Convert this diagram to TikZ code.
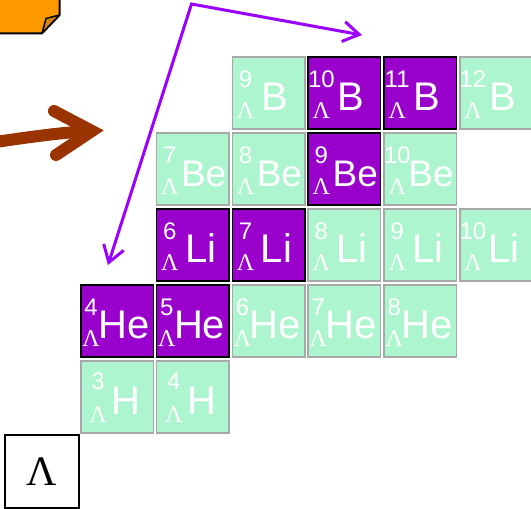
\documentclass[tikz,border=0pt]{standalone}
\usepackage{fontspec}
\setmainfont{Liberation Sans}
\newfontfamily\lamfont{Liberation Serif}
\usetikzlibrary{arrows.meta}

\definecolor{mint}{HTML}{ADF5CE}
\definecolor{mintedge}{HTML}{A8A8A8}
\definecolor{hyperpurple}{HTML}{9900CC}
\definecolor{notefill}{HTML}{FF9900}
\definecolor{notefold}{HTML}{D4840F}
\definecolor{rust}{HTML}{993300}
\definecolor{arrowviolet}{HTML}{9900FF}

% per-row layout: prescript column, element x, element baseline, element size, mass baseline
\newcommand\rowsetup[5]{\def\pcol{#1}\def\ex{#2}\def\ebase{#3}\def\esize{#4}\def\nbase{#5}}

% one hypernucleus cell: name, column, row, style, mass number, element
\newcommand\hypnuc[6]{%
  \node[#4] (#1) at ({80+75.8*#2},{56+76.1*#3}) {};
  \node[massno] (#1-a) at ([xshift=\pcol pt, yshift=\nbase pt]#1.south west) {#5};
  \node[lam] (#1-l) at ([xshift=\pcol pt, yshift=11pt]#1.south west) {Λ};
  \node[elem, font=\fontsize{\esize}{\esize}\selectfont] (#1-x)
    at ([xshift=\ex pt, yshift=\ebase pt]#1.south west) {#6};
}

\begin{document}
\begin{tikzpicture}[x=1pt, y=-1pt,
  cell/.style={rectangle, anchor=north west, minimum width=72.5pt,
    minimum height=72pt, inner sep=0pt, line width=1.5pt},
  known/.style={cell, fill=hyperpurple, draw=black},
  unknown/.style={cell, fill=mint, draw=mintedge},
  massno/.style={font=\fontsize{24}{24}\selectfont, inner sep=0pt, anchor=base, text=white},
  lam/.style={font=\lamfont\fontsize{24}{24}\selectfont, inner sep=0pt, anchor=base, text=white},
  elem/.style={inner sep=0pt, anchor=base west, text=white},
  pointer/.style={arrowviolet, line width=3pt, line join=miter},
  bigarrow/.style={rust, line width=12pt}]
\useasboundingbox (0,0) rectangle (531,509);

% folded note in the corner
\filldraw[fill=notefill, draw=black, line width=2pt]
  (-4,-4) -- (59.5,-4) -- (59.5,15) -- (42,33.3) -- (-4,33.3) -- cycle;
\filldraw[fill=notefold, draw=black, line width=1.5pt, line join=round]
  (59.5,15) -- (46,18.5) -- (42,33.3) -- cycle;

% thick brown arrow
\coordinate (shaftStart) at (-8,142.5);
\coordinate (headVertex) at (92,131);
\coordinate (wingUp) at (54,111);
\coordinate (wingDown) at (56,155);
\draw[bigarrow] (shaftStart) .. controls (30,137) and (60,132.5) .. (headVertex);
\draw[bigarrow, line cap=round, line join=miter] (wingUp) -- (headVertex) -- (wingDown);

% B row
\rowsetup{14}{30}{19}{40}{42}
\hypnuc{b9}{2}{0}{unknown}{9}{B}
\hypnuc{b10}{3}{0}{known}{10}{B}
\hypnuc{b11}{4}{0}{known}{11}{B}
\hypnuc{b12}{5}{0}{unknown}{12}{B}

% Be row
\rowsetup{14}{25}{19}{37}{42}
\hypnuc{be7}{1}{1}{unknown}{7}{Be}
\hypnuc{be8}{2}{1}{unknown}{8}{Be}
\hypnuc{be9}{3}{1}{known}{9}{Be}
\hypnuc{be10}{4}{1}{unknown}{10}{Be}

% Li row
\rowsetup{14}{29}{19}{40}{42}
\hypnuc{li6}{1}{2}{known}{6}{Li}
\hypnuc{li7}{2}{2}{known}{7}{Li}
\hypnuc{li8}{3}{2}{unknown}{8}{Li}
\hypnuc{li9}{4}{2}{unknown}{9}{Li}
\hypnuc{li10}{5}{2}{unknown}{10}{Li}

% He row
\rowsetup{11}{18}{19}{40}{42}
\hypnuc{he4}{0}{3}{known}{4}{He}
\hypnuc{he5}{1}{3}{known}{5}{He}
\hypnuc{he6}{2}{3}{unknown}{6}{He}
\hypnuc{he7}{3}{3}{unknown}{7}{He}
\hypnuc{he8}{4}{3}{unknown}{8}{He}

% H row
\rowsetup{18}{31}{19}{40}{44}
\hypnuc{h3}{0}{4}{unknown}{3}{H}
\hypnuc{h4}{1}{4}{unknown}{4}{H}

% free lambda
\node[draw=black, fill=white, line width=1.5pt, minimum width=74pt, minimum height=73pt,
  inner sep=0pt, font=\lamfont\fontsize{42}{42}\selectfont] (lambda) at (42,471.5) {Λ};

% violet pointers
\coordinate (bend) at (191.5,4);
\coordinate (tipB) at (362,35);
\coordinate (tipHe) at (108,265);
\draw[pointer, {Straight Barb[length=16pt,width=21pt]}-{Straight Barb[length=16pt,width=20pt]}]
  (tipHe) -- (bend) -- (tipB);
\end{tikzpicture}
\end{document}
